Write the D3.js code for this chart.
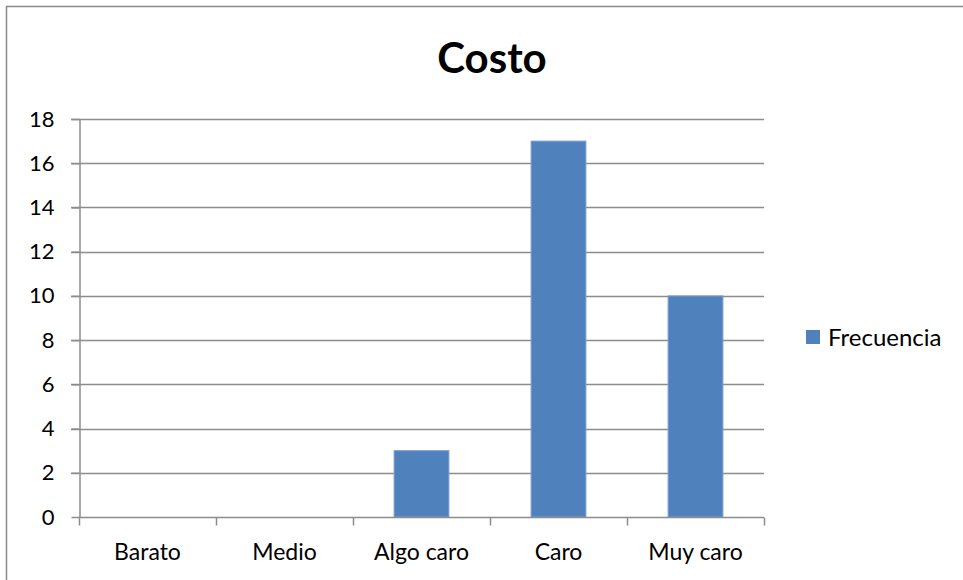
<!DOCTYPE html>
<html>
<head>
<meta charset="utf-8">
<script src="https://cdn.jsdelivr.net/npm/d3@7"></script>
<style>
  html, body { margin: 0; padding: 0; background: #fff; }
  svg { display: block; }
  text { font-family: Lato, "Open Sans", sans-serif; fill: #000; }
</style>
</head>
<body>
<svg id="chart" width="963" height="580"></svg>
<script>
// Cost survey: frequency of each price perception
const categories = ["Barato", "Medio", "Algo caro", "Caro", "Muy caro"];
const frecuencia = [0, 0, 3, 17, 10];
const yTicks = [0, 2, 4, 6, 8, 10, 12, 14, 16, 18];
const seriesName = "Frecuencia";
const title = "Costo";

const W = 963, H = 580;
const plot = { left: 79, right: 764, top: 119, bottom: 517 };
const barColor = "#4F81BD";
const gridColor = "#8C8C8C";

const svg = d3.select("#chart");

// chart frame
svg.append("rect")
  .attr("x", 6.5).attr("y", 6.5)
  .attr("width", W).attr("height", H)
  .attr("fill", "#fff").attr("stroke", "#8A8A8A").attr("stroke-width", 1.5);

const x = d3.scaleBand().domain(categories)
  .range([plot.left, plot.right]).paddingInner(0.6).paddingOuter(0.3);
const xOuter = d3.scaleBand().domain(categories).range([plot.left, plot.right]);
const y = d3.scaleLinear().domain([0, 18]).range([plot.bottom, plot.top]);

// horizontal gridlines
svg.append("g").selectAll("line").data(yTicks.filter(t => t > 0)).join("line")
  .attr("x1", plot.left - 8).attr("x2", plot.right)
  .attr("y1", d => Math.round(y(d)) + 0.5).attr("y2", d => Math.round(y(d)) + 0.5)
  .attr("stroke", gridColor).attr("stroke-width", 1.5);

// bars
svg.append("g").selectAll("rect").data(categories.map((c, i) => ({ c, v: frecuencia[i] })).filter(d => d.v > 0)).join("rect")
  .attr("x", d => x(d.c)).attr("width", x.bandwidth())
  .attr("y", d => y(d.v)).attr("height", d => y(0) - y(d.v))
  .attr("fill", barColor).attr("stroke", "#7A9FD0").attr("stroke-width", 1);

// y axis
const yAxis = d3.axisLeft(y).tickValues(yTicks).tickSize(8).tickPadding(17).tickSizeOuter(0);
const gy = svg.append("g").attr("transform", `translate(${plot.left + 0.5},0)`).call(yAxis);
gy.select(".domain").attr("stroke", gridColor).attr("stroke-width", 1.5);
gy.selectAll(".tick line").attr("stroke", gridColor).attr("stroke-width", 1.5);
gy.selectAll(".tick text").attr("font-size", 22).attr("font-family", "Lato, sans-serif").attr("fill", "#000");

// x axis with ticks between categories
const gx = svg.append("g").attr("transform", `translate(0,${plot.bottom + 0.5})`);
gx.append("line").attr("x1", plot.left).attr("x2", plot.right)
  .attr("stroke", gridColor).attr("stroke-width", 1.5);
const bounds = categories.map(c => xOuter(c)).concat([plot.right]);
gx.selectAll("line.tk").data(bounds).join("line").attr("class", "tk")
  .attr("x1", d => d + 0.5).attr("x2", d => d + 0.5).attr("y1", 0).attr("y2", 8)
  .attr("stroke", gridColor).attr("stroke-width", 1.5);
gx.selectAll("text").data(categories).join("text")
  .attr("x", d => xOuter(d) + xOuter.bandwidth() / 2).attr("y", 42)
  .attr("text-anchor", "middle").attr("font-size", 23).text(d => d);

// title
svg.append("text").attr("x", 492).attr("y", 73)
  .attr("text-anchor", "middle").attr("font-size", 42).attr("font-weight", "bold").text(title);

// legend
const lg = svg.append("g").attr("transform", "translate(806,330)");
lg.append("rect").attr("width", 14).attr("height", 14).attr("fill", barColor);
lg.append("text").attr("x", 22).attr("y", 15.5).attr("font-size", 24).text(seriesName);
</script>
</body>
</html>
